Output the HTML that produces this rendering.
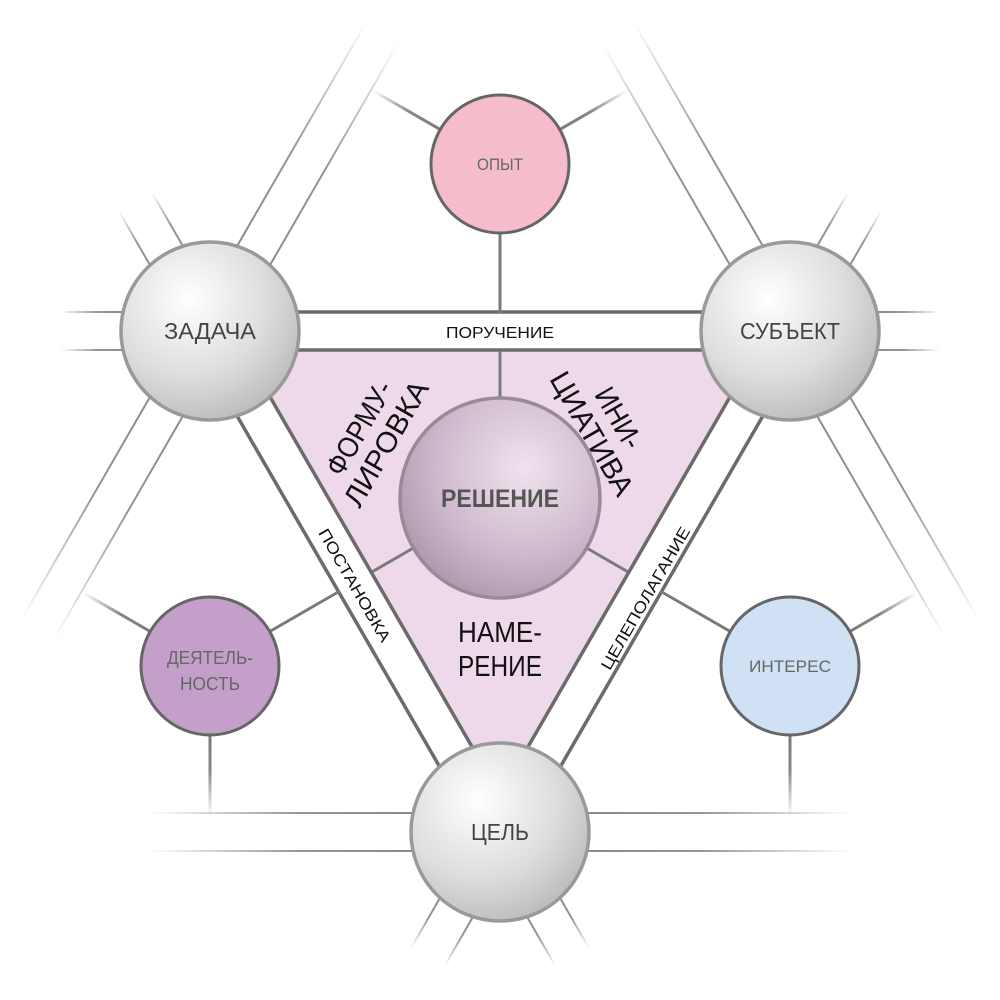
<!DOCTYPE html>
<html><head><meta charset="utf-8"><style>
html,body{margin:0;padding:0;background:#fff;width:1000px;height:1000px;overflow:hidden}
svg{display:block}
text{font-family:"Liberation Sans","DejaVu Sans",sans-serif}
</style></head><body>
<svg id="s" width="1000" height="1000" viewBox="0 0 1000 1000" xmlns="http://www.w3.org/2000/svg">
<defs>
<radialGradient id="gs" cx="0.38" cy="0.32" r="0.75">
<stop offset="0" stop-color="#ffffff"/><stop offset="0.6" stop-color="#dcdcdc"/><stop offset="1" stop-color="#b8b8b8"/>
</radialGradient>
<radialGradient id="gr" cx="0.62" cy="0.35" r="0.75">
<stop offset="0" stop-color="#efe3ee"/><stop offset="0.6" stop-color="#cdb8cb"/><stop offset="1" stop-color="#a891a6"/>
</radialGradient>
</defs>
<polygon points="245,351 755,351 500,792" fill="#eed9ea"/>
<g id="lines"></g>
<g id="circles">
<circle cx="500" cy="164" r="69" fill="#f5bccb" stroke="#666" stroke-width="3"/>
<circle cx="210" cy="666" r="69" fill="#c39fca" stroke="#666" stroke-width="3"/>
<circle cx="790" cy="666" r="69" fill="#d0e1f5" stroke="#666" stroke-width="3"/>
<circle cx="210" cy="331" r="89" fill="url(#gs)" stroke="#999" stroke-width="3.5"/>
<circle cx="790" cy="331" r="89" fill="url(#gs)" stroke="#999" stroke-width="3.5"/>
<circle cx="500" cy="832" r="89" fill="url(#gs)" stroke="#999" stroke-width="3.5"/>
<circle cx="500" cy="498" r="100" fill="url(#gr)" stroke="#9a8a98" stroke-width="3.5"/>
</g>
<g fill="#444" text-anchor="middle">
<text x="210" y="339" font-size="23" textLength="92" lengthAdjust="spacingAndGlyphs">ЗАДАЧА</text>
<text x="790" y="339" font-size="23" textLength="100" lengthAdjust="spacingAndGlyphs">СУБЪЕКТ</text>
<text x="500" y="840" font-size="23" textLength="58" lengthAdjust="spacingAndGlyphs">ЦЕЛЬ</text>
<text x="500" y="507" font-size="25" font-weight="bold" fill="#555" textLength="118" lengthAdjust="spacingAndGlyphs">РЕШЕНИЕ</text>
<text x="500" y="170" font-size="17" fill="#666" textLength="46" lengthAdjust="spacingAndGlyphs">ОПЫТ</text>
<text x="790" y="672" font-size="17" fill="#666" textLength="82" lengthAdjust="spacingAndGlyphs">ИНТЕРЕС</text>
<text x="210" y="664" font-size="18" fill="#666" textLength="86" lengthAdjust="spacingAndGlyphs">ДЕЯТЕЛЬ-</text>
<text x="210" y="690" font-size="18" fill="#666" textLength="60" lengthAdjust="spacingAndGlyphs">НОСТЬ</text>
</g>
<g fill="#111" text-anchor="middle">
<text x="500" y="338" font-size="16" textLength="108" lengthAdjust="spacingAndGlyphs">ПОРУЧЕНИЕ</text>
<text transform="translate(355,585) rotate(60)" font-size="16" y="6" textLength="128" lengthAdjust="spacingAndGlyphs">ПОСТАНОВКА</text>
<text transform="translate(645,598) rotate(-60)" font-size="16" y="6" textLength="162" lengthAdjust="spacingAndGlyphs">ЦЕЛЕПОЛАГАНИЕ</text>
<g transform="translate(373,436) rotate(-60)" font-size="29">
<text y="-6" textLength="104" lengthAdjust="spacingAndGlyphs">ФОРМУ-</text><text y="25" textLength="140" lengthAdjust="spacingAndGlyphs">ЛИРОВКА</text></g>
<g transform="translate(605,426) rotate(60)" font-size="29">
<text y="-6" textLength="66" lengthAdjust="spacingAndGlyphs">ИНИ-</text><text y="25" textLength="138" lengthAdjust="spacingAndGlyphs">ЦИАТИВА</text></g>
<text x="500" y="642" font-size="29" textLength="84" lengthAdjust="spacingAndGlyphs">НАМЕ-</text>
<text x="500" y="676" font-size="29" textLength="84" lengthAdjust="spacingAndGlyphs">РЕНИЕ</text>
</g>
</svg>
<script>
(function(){
var NS="http://www.w3.org/2000/svg",svg=document.getElementById('s'),defs=svg.querySelector('defs'),g=document.getElementById('lines'),gid=0;
function line(x1,y1,x2,y2,col,w,fade){
 var l=document.createElementNS(NS,'line');
 l.setAttribute('x1',x1);l.setAttribute('y1',y1);l.setAttribute('x2',x2);l.setAttribute('y2',y2);
 l.setAttribute('stroke-width',w);
 if(fade){
  var id='f'+(gid++),lg=document.createElementNS(NS,'linearGradient');
  lg.setAttribute('id',id);lg.setAttribute('gradientUnits','userSpaceOnUse');
  lg.setAttribute('x1',x1);lg.setAttribute('y1',y1);lg.setAttribute('x2',x2);lg.setAttribute('y2',y2);
  [[0,1],[0.45,0.9],[1,0]].forEach(function(s){var st=document.createElementNS(NS,'stop');st.setAttribute('offset',s[0]);st.setAttribute('stop-color',col);st.setAttribute('stop-opacity',s[1]);lg.appendChild(st);});
  defs.appendChild(lg);l.setAttribute('stroke','url(#'+id+')');
 } else l.setAttribute('stroke',col);
 g.appendChild(l);
}
function ray(cx,cy,a,r0,L,col,w,fade){
 var r=a*Math.PI/180,dx=Math.cos(r),dy=Math.sin(r),nx=-dy,ny=dx;
 [-19,19].forEach(function(s){
  var px=cx+s*nx,py=cy+s*ny;
  line(px+r0*dx,py+r0*dy,px+L*dx,py+L*dy,col,w,fade);
 });
}
function conn(cx,cy,a,r0,L,fade){
 var r=a*Math.PI/180,dx=Math.cos(r),dy=Math.sin(r);
 line(cx+r0*dx,cy+r0*dy,cx+L*dx,cy+L*dy,'#7a7a7a',3,fade);
}
var Z=[210,331],S=[790,331],C=[500,832],G='#8a8a8a';
ray(Z[0],Z[1],0,0,580,'#6b6b6b',3.5,false);
ray(Z[0],Z[1],60,0,580,'#6b6b6b',3.5,false);
ray(S[0],S[1],120,0,580,'#6b6b6b',3.5,false);
ray(Z[0],Z[1],-60,80,345,G,2,true);ray(Z[0],Z[1],120,80,345,G,2,true);
ray(S[0],S[1],-120,80,345,G,2,true);ray(S[0],S[1],60,80,345,G,2,true);
ray(C[0],C[1],0,80,350,G,2,true);ray(C[0],C[1],180,80,350,G,2,true);
ray(Z[0],Z[1],180,80,150,G,2,true);ray(Z[0],Z[1],-120,80,150,G,2,true);
ray(S[0],S[1],0,80,150,G,2,true);ray(S[0],S[1],-60,80,150,G,2,true);
ray(C[0],C[1],60,80,145,G,2,true);ray(C[0],C[1],120,80,145,G,2,true);
conn(500,164,90,69,149,false);
conn(500,164,-150,69,147,true);conn(500,164,-30,69,147,true);
conn(500,498,-90,99,147,false);conn(500,498,150,99,147,false);conn(500,498,30,99,147,false);
conn(210,666,-30,69,150,false);conn(210,666,-150,69,146,true);conn(210,666,90,69,149,true);
conn(790,666,-150,69,150,false);conn(790,666,-30,69,146,true);conn(790,666,90,69,149,true);
})();
</script>
</body></html>
